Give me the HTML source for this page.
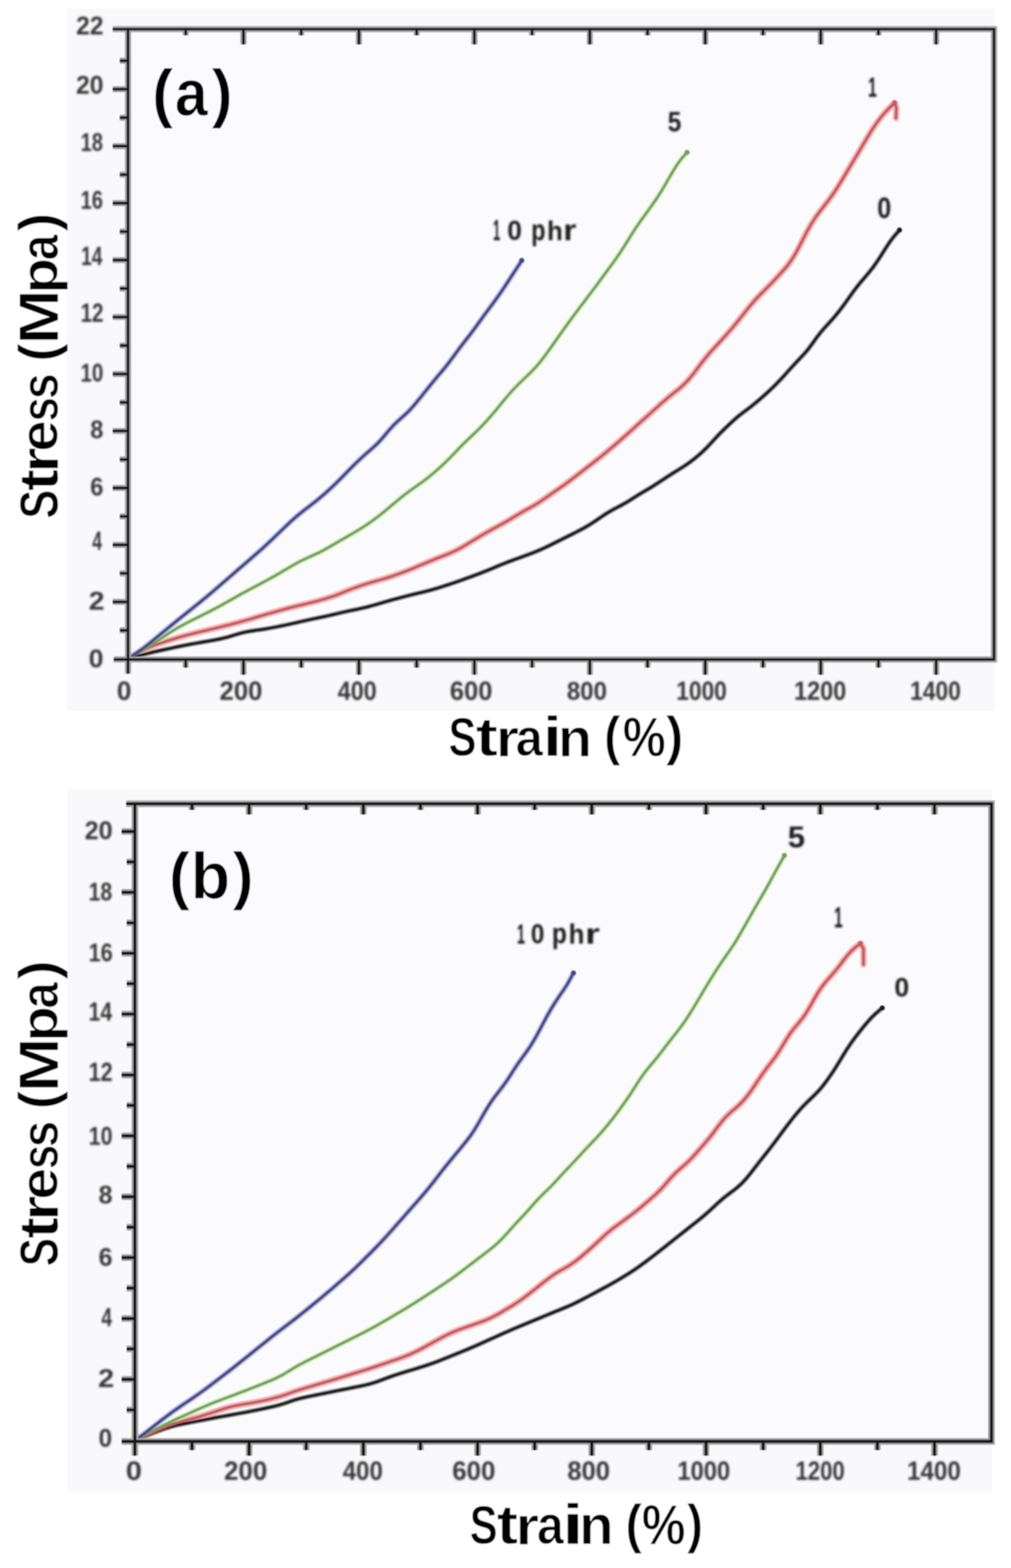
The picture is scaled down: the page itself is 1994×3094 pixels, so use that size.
<!DOCTYPE html>
<html><head><meta charset="utf-8"><title>Stress-strain curves (a) and (b)</title>
<style>html,body{margin:0;padding:0;background:#fff;overflow:hidden}svg{display:block}.t{font-family:"Liberation Sans",Arial,Helvetica,sans-serif;font-weight:bold}</style></head><body>
<svg xmlns="http://www.w3.org/2000/svg" width="1994" height="3094" viewBox="0 0 1994 3094">
<defs><filter id="soft" x="-5%" y="-5%" width="110%" height="110%"><feGaussianBlur stdDeviation="1.0"/></filter><filter id="tick" x="-20%" y="-20%" width="140%" height="140%"><feGaussianBlur stdDeviation="1.9"/></filter></defs>
<rect width="1994" height="3094" fill="#ffffff"/>
<rect x="132" y="17" width="1830" height="1386" fill="#f9f9fb"/>
<rect x="252.5" y="57.5" width="1708" height="1243.8" fill="#fbfbfd"/>
<g fill="none" stroke-linejoin="round" stroke-linecap="round" filter="url(#soft)">
<polyline points="258,1298 266,1295.91 274,1293.81 282,1291.74 290,1289.7 298,1287.73 306,1285.85 314,1284.05 322,1282.31 330,1280.59 338,1278.88 346,1277.18 354,1275.5 362,1273.87 370,1272.31 378,1270.82 386,1269.38 394,1267.97 402,1266.57 410,1265.17 418,1263.77 426,1262.31 434,1260.74 442,1258.94 450,1256.82 458,1254.44 466,1251.96 474,1249.63 482,1247.64 490,1246.04 498,1244.74 506,1243.59 514,1242.44 522,1241.21 530,1239.85 538,1238.39 546,1236.84 554,1235.25 562,1233.6 570,1231.88 578,1230.09 586,1228.26 594,1226.43 602,1224.61 610,1222.85 618,1221.14 626,1219.47 634,1217.81 642,1216.12 650,1214.35 658,1212.5 666,1210.58 674,1208.68 682,1206.86 690,1205.14 698,1203.49 706,1201.86 714,1200.15 722,1198.28 730,1196.21 738,1193.97 746,1191.63 754,1189.27 762,1186.94 770,1184.67 778,1182.47 786,1180.32 794,1178.21 802,1176.13 810,1174.12 818,1172.16 826,1170.24 834,1168.32 842,1166.34 850,1164.23 858,1161.94 866,1159.51 874,1156.98 882,1154.39 890,1151.76 898,1149.06 906,1146.27 914,1143.4 922,1140.49 930,1137.55 938,1134.59 946,1131.59 954,1128.52 962,1125.32 970,1122 978,1118.61 986,1115.26 994,1112.01 1002,1108.92 1010,1105.94 1018,1103.01 1026,1100.1 1034,1097.18 1042,1094.23 1050,1091.21 1058,1088.04 1066,1084.65 1074,1081 1082,1077.16 1090,1073.22 1098,1069.24 1106,1065.24 1114,1061.23 1122,1057.22 1130,1053.21 1138,1049.16 1146,1045.01 1154,1040.63 1162,1035.89 1170,1030.76 1178,1025.37 1186,1019.91 1194,1014.6 1202,1009.65 1210,1005.13 1218,1000.93 1226,996.73 1234,992.22 1242,987.31 1250,982.2 1258,977.17 1266,972.34 1274,967.62 1282,962.84 1290,957.88 1298,952.72 1306,947.47 1314,942.2 1322,937 1330,931.94 1338,926.97 1346,921.98 1354,916.72 1362,911.01 1370,904.8 1378,898.16 1386,891.03 1394,883.18 1402,874.62 1410,865.79 1418,857.26 1426,849.24 1434,841.54 1442,833.97 1450,826.65 1458,819.89 1466,813.69 1474,807.74 1482,801.62 1490,795.16 1498,788.38 1506,781.35 1514,774.1 1522,766.57 1530,758.69 1538,750.43 1546,741.84 1554,732.97 1562,724.01 1570,715.27 1578,706.9 1586,698.43 1594,688.97 1602,678.24 1610,667.04 1618,656.57 1626,647.24 1634,638.5 1642,629.62 1650,620.19 1658,610.09 1666,599.31 1674,588.05 1682,576.8 1690,566.15 1698,556.34 1706,547.03 1714,537.54 1722,527.31 1730,516.01 1738,503.7 1746,490.93 1754,478.71 1762,467.93 1770,458.79 1774,454" stroke="#8f8f8f" stroke-width="10" opacity="0.85"/>
<polyline points="256,1297 264,1292.82 272,1288.65 280,1284.52 288,1280.52 296,1276.8 304,1273.47 312,1270.54 320,1267.88 328,1265.35 336,1262.86 344,1260.4 352,1257.97 360,1255.62 368,1253.39 376,1251.3 384,1249.33 392,1247.42 400,1245.53 408,1243.65 416,1241.75 424,1239.82 432,1237.85 440,1235.85 448,1233.83 456,1231.79 464,1229.74 472,1227.64 480,1225.47 488,1223.21 496,1220.87 504,1218.49 512,1216.1 520,1213.72 528,1211.36 536,1209.04 544,1206.78 552,1204.58 560,1202.41 568,1200.28 576,1198.2 584,1196.19 592,1194.24 600,1192.34 608,1190.43 616,1188.46 624,1186.38 632,1184.18 640,1181.87 648,1179.44 656,1176.84 664,1173.97 672,1170.83 680,1167.56 688,1164.35 696,1161.27 704,1158.33 712,1155.5 720,1152.83 728,1150.33 736,1148.01 744,1145.78 752,1143.56 760,1141.24 768,1138.75 776,1136.08 784,1133.25 792,1130.33 800,1127.31 808,1124.19 816,1120.93 824,1117.56 832,1114.14 840,1110.72 848,1107.36 856,1104.09 864,1100.91 872,1097.78 880,1094.63 888,1091.34 896,1087.76 904,1083.76 912,1079.33 920,1074.6 928,1069.72 936,1064.81 944,1059.92 952,1055.12 960,1050.47 968,1045.99 976,1041.64 984,1037.33 992,1032.94 1000,1028.37 1008,1023.57 1016,1018.67 1024,1013.82 1032,1009.19 1040,1004.76 1048,1000.36 1056,995.75 1064,990.73 1072,985.34 1080,979.74 1088,974.11 1096,968.55 1104,963.01 1112,957.38 1120,951.53 1128,945.45 1136,939.24 1144,933.01 1152,926.82 1160,920.67 1168,914.49 1176,908.22 1184,901.83 1192,895.32 1200,888.68 1208,881.93 1216,875.07 1224,868.14 1232,861.11 1240,853.98 1248,846.76 1256,839.5 1264,832.29 1272,825.13 1280,817.98 1288,810.77 1296,803.51 1304,796.31 1312,789.3 1320,782.59 1328,776.2 1336,769.9 1344,763.21 1352,755.59 1360,746.78 1368,736.89 1376,726.36 1384,715.76 1392,705.61 1400,696.16 1408,687.25 1416,678.59 1424,669.92 1432,661.11 1440,652.05 1448,642.64 1456,632.84 1464,622.74 1472,612.58 1480,602.68 1488,593.4 1496,584.8 1504,576.65 1512,568.6 1520,560.39 1528,551.96 1536,543.39 1544,534.65 1552,525.34 1560,514.68 1568,502 1576,487.34 1584,471.56 1592,456.05 1600,441.96 1608,429.61 1616,418.6 1624,408.24 1632,397.9 1640,387.08 1648,375.46 1656,362.95 1664,349.74 1672,336.23 1680,322.79 1688,309.45 1696,296 1704,282.39 1712,268.89 1720,255.99 1728,244.11 1736,233.4 1744,223.77 1752,215.07 1760,207.2 1764.4,203 1768,213 1767,233" stroke="#f4aaaa" stroke-width="13" opacity="0.85"/>
<polyline points="256,1297 264,1292.45 272,1287.9 280,1283.33 288,1278.68 296,1273.89 304,1268.88 312,1263.66 320,1258.31 328,1252.92 336,1247.63 344,1242.59 352,1237.88 360,1233.51 368,1229.36 376,1225.33 384,1221.32 392,1217.33 400,1213.33 408,1209.3 416,1205.22 424,1201.04 432,1196.73 440,1192.3 448,1187.8 456,1183.28 464,1178.75 472,1174.25 480,1169.81 488,1165.46 496,1161.18 504,1156.95 512,1152.72 520,1148.46 528,1144.14 536,1139.74 544,1135.24 552,1130.64 560,1125.93 568,1121.17 576,1116.44 584,1111.87 592,1107.59 600,1103.65 608,1099.97 616,1096.39 624,1092.75 632,1088.89 640,1084.71 648,1080.23 656,1075.56 664,1070.83 672,1066.12 680,1061.47 688,1056.88 696,1052.3 704,1047.63 712,1042.75 720,1037.6 728,1032.18 736,1026.49 744,1020.53 752,1014.25 760,1007.72 768,1001.02 776,994.27 784,987.54 792,980.95 800,974.63 808,968.66 816,963 824,957.41 832,951.69 840,945.68 848,939.35 856,932.69 864,925.7 872,918.37 880,910.7 888,902.71 896,894.44 904,886.07 912,877.86 920,870 928,862.41 936,854.84 944,847.03 952,838.86 960,830.27 968,821.24 976,811.78 984,802 992,792.15 1000,782.55 1008,773.44 1016,764.86 1024,756.74 1032,748.94 1040,741.27 1048,733.43 1056,725.07 1064,715.82 1072,705.63 1080,694.75 1088,683.55 1096,672.25 1104,660.94 1112,649.67 1120,638.51 1128,627.51 1136,616.68 1144,606 1152,595.4 1160,584.85 1168,574.3 1176,563.64 1184,552.74 1192,541.71 1200,530.78 1208,519.96 1216,508.89 1224,497.17 1232,484.72 1240,471.82 1248,459.02 1256,446.81 1264,435.29 1272,424.19 1280,413.15 1288,401.93 1296,390.27 1304,377.82 1312,364.43 1320,350.47 1328,336.75 1336,324.16 1344,313.15 1355,300.8 1355,300.8" stroke="#c9e8b4" stroke-width="10" opacity="0.85"/>
<polyline points="256,1296.97 264,1291.85 272,1286.53 280,1280.87 288,1274.83 296,1268.47 304,1261.93 312,1255.33 320,1248.7 328,1242.08 336,1235.48 344,1228.92 352,1222.41 360,1215.95 368,1209.53 376,1203.12 384,1196.71 392,1190.26 400,1183.74 408,1177.1 416,1170.34 424,1163.49 432,1156.58 440,1149.65 448,1142.72 456,1135.79 464,1128.86 472,1121.93 480,1115 488,1108.07 496,1101.13 504,1094.16 512,1087.12 520,1079.94 528,1072.57 536,1065.02 544,1057.35 552,1049.63 560,1041.91 568,1034.25 576,1026.78 584,1019.66 592,1012.97 600,1006.66 608,1000.55 616,994.42 624,988.08 632,981.46 640,974.55 648,967.41 656,959.99 664,952.26 672,944.25 680,936.07 688,927.87 696,919.76 704,911.85 712,904.22 720,896.97 728,890.01 736,883.03 744,875.51 752,867.01 760,857.61 768,848.08 776,839.3 784,831.54 792,824.4 800,817.22 808,809.38 816,800.52 824,790.85 832,780.86 840,770.89 848,760.96 856,751.13 864,741.56 872,732.12 880,722.39 888,711.99 896,701.04 904,690.06 912,679.51 920,669.32 928,659.04 936,648.29 944,637.19 952,626.09 960,615.17 968,604.37 976,593.52 984,582.4 992,570.78 1000,558.63 1008,546.25 1016,533.96 1024,521.91 1029,514" stroke="#aeb0da" stroke-width="11" opacity="0.85"/>
<polyline points="258,1298 266,1295.91 274,1293.81 282,1291.74 290,1289.7 298,1287.73 306,1285.85 314,1284.05 322,1282.31 330,1280.59 338,1278.88 346,1277.18 354,1275.5 362,1273.87 370,1272.31 378,1270.82 386,1269.38 394,1267.97 402,1266.57 410,1265.17 418,1263.77 426,1262.31 434,1260.74 442,1258.94 450,1256.82 458,1254.44 466,1251.96 474,1249.63 482,1247.64 490,1246.04 498,1244.74 506,1243.59 514,1242.44 522,1241.21 530,1239.85 538,1238.39 546,1236.84 554,1235.25 562,1233.6 570,1231.88 578,1230.09 586,1228.26 594,1226.43 602,1224.61 610,1222.85 618,1221.14 626,1219.47 634,1217.81 642,1216.12 650,1214.35 658,1212.5 666,1210.58 674,1208.68 682,1206.86 690,1205.14 698,1203.49 706,1201.86 714,1200.15 722,1198.28 730,1196.21 738,1193.97 746,1191.63 754,1189.27 762,1186.94 770,1184.67 778,1182.47 786,1180.32 794,1178.21 802,1176.13 810,1174.12 818,1172.16 826,1170.24 834,1168.32 842,1166.34 850,1164.23 858,1161.94 866,1159.51 874,1156.98 882,1154.39 890,1151.76 898,1149.06 906,1146.27 914,1143.4 922,1140.49 930,1137.55 938,1134.59 946,1131.59 954,1128.52 962,1125.32 970,1122 978,1118.61 986,1115.26 994,1112.01 1002,1108.92 1010,1105.94 1018,1103.01 1026,1100.1 1034,1097.18 1042,1094.23 1050,1091.21 1058,1088.04 1066,1084.65 1074,1081 1082,1077.16 1090,1073.22 1098,1069.24 1106,1065.24 1114,1061.23 1122,1057.22 1130,1053.21 1138,1049.16 1146,1045.01 1154,1040.63 1162,1035.89 1170,1030.76 1178,1025.37 1186,1019.91 1194,1014.6 1202,1009.65 1210,1005.13 1218,1000.93 1226,996.73 1234,992.22 1242,987.31 1250,982.2 1258,977.17 1266,972.34 1274,967.62 1282,962.84 1290,957.88 1298,952.72 1306,947.47 1314,942.2 1322,937 1330,931.94 1338,926.97 1346,921.98 1354,916.72 1362,911.01 1370,904.8 1378,898.16 1386,891.03 1394,883.18 1402,874.62 1410,865.79 1418,857.26 1426,849.24 1434,841.54 1442,833.97 1450,826.65 1458,819.89 1466,813.69 1474,807.74 1482,801.62 1490,795.16 1498,788.38 1506,781.35 1514,774.1 1522,766.57 1530,758.69 1538,750.43 1546,741.84 1554,732.97 1562,724.01 1570,715.27 1578,706.9 1586,698.43 1594,688.97 1602,678.24 1610,667.04 1618,656.57 1626,647.24 1634,638.5 1642,629.62 1650,620.19 1658,610.09 1666,599.31 1674,588.05 1682,576.8 1690,566.15 1698,556.34 1706,547.03 1714,537.54 1722,527.31 1730,516.01 1738,503.7 1746,490.93 1754,478.71 1762,467.93 1770,458.79 1774,454" stroke="#1a1a1a" stroke-width="5.5"/>
<circle cx="1774" cy="454" r="5" fill="#1a1a1a" stroke="none"/>
<polyline points="256,1297 264,1292.82 272,1288.65 280,1284.52 288,1280.52 296,1276.8 304,1273.47 312,1270.54 320,1267.88 328,1265.35 336,1262.86 344,1260.4 352,1257.97 360,1255.62 368,1253.39 376,1251.3 384,1249.33 392,1247.42 400,1245.53 408,1243.65 416,1241.75 424,1239.82 432,1237.85 440,1235.85 448,1233.83 456,1231.79 464,1229.74 472,1227.64 480,1225.47 488,1223.21 496,1220.87 504,1218.49 512,1216.1 520,1213.72 528,1211.36 536,1209.04 544,1206.78 552,1204.58 560,1202.41 568,1200.28 576,1198.2 584,1196.19 592,1194.24 600,1192.34 608,1190.43 616,1188.46 624,1186.38 632,1184.18 640,1181.87 648,1179.44 656,1176.84 664,1173.97 672,1170.83 680,1167.56 688,1164.35 696,1161.27 704,1158.33 712,1155.5 720,1152.83 728,1150.33 736,1148.01 744,1145.78 752,1143.56 760,1141.24 768,1138.75 776,1136.08 784,1133.25 792,1130.33 800,1127.31 808,1124.19 816,1120.93 824,1117.56 832,1114.14 840,1110.72 848,1107.36 856,1104.09 864,1100.91 872,1097.78 880,1094.63 888,1091.34 896,1087.76 904,1083.76 912,1079.33 920,1074.6 928,1069.72 936,1064.81 944,1059.92 952,1055.12 960,1050.47 968,1045.99 976,1041.64 984,1037.33 992,1032.94 1000,1028.37 1008,1023.57 1016,1018.67 1024,1013.82 1032,1009.19 1040,1004.76 1048,1000.36 1056,995.75 1064,990.73 1072,985.34 1080,979.74 1088,974.11 1096,968.55 1104,963.01 1112,957.38 1120,951.53 1128,945.45 1136,939.24 1144,933.01 1152,926.82 1160,920.67 1168,914.49 1176,908.22 1184,901.83 1192,895.32 1200,888.68 1208,881.93 1216,875.07 1224,868.14 1232,861.11 1240,853.98 1248,846.76 1256,839.5 1264,832.29 1272,825.13 1280,817.98 1288,810.77 1296,803.51 1304,796.31 1312,789.3 1320,782.59 1328,776.2 1336,769.9 1344,763.21 1352,755.59 1360,746.78 1368,736.89 1376,726.36 1384,715.76 1392,705.61 1400,696.16 1408,687.25 1416,678.59 1424,669.92 1432,661.11 1440,652.05 1448,642.64 1456,632.84 1464,622.74 1472,612.58 1480,602.68 1488,593.4 1496,584.8 1504,576.65 1512,568.6 1520,560.39 1528,551.96 1536,543.39 1544,534.65 1552,525.34 1560,514.68 1568,502 1576,487.34 1584,471.56 1592,456.05 1600,441.96 1608,429.61 1616,418.6 1624,408.24 1632,397.9 1640,387.08 1648,375.46 1656,362.95 1664,349.74 1672,336.23 1680,322.79 1688,309.45 1696,296 1704,282.39 1712,268.89 1720,255.99 1728,244.11 1736,233.4 1744,223.77 1752,215.07 1760,207.2 1764.4,203 1768,213 1767,233" stroke="#c45c62" stroke-width="5.5"/>
<circle cx="1764.4" cy="203" r="5" fill="#c45c62" stroke="none"/>
<polyline points="256,1297 264,1292.45 272,1287.9 280,1283.33 288,1278.68 296,1273.89 304,1268.88 312,1263.66 320,1258.31 328,1252.92 336,1247.63 344,1242.59 352,1237.88 360,1233.51 368,1229.36 376,1225.33 384,1221.32 392,1217.33 400,1213.33 408,1209.3 416,1205.22 424,1201.04 432,1196.73 440,1192.3 448,1187.8 456,1183.28 464,1178.75 472,1174.25 480,1169.81 488,1165.46 496,1161.18 504,1156.95 512,1152.72 520,1148.46 528,1144.14 536,1139.74 544,1135.24 552,1130.64 560,1125.93 568,1121.17 576,1116.44 584,1111.87 592,1107.59 600,1103.65 608,1099.97 616,1096.39 624,1092.75 632,1088.89 640,1084.71 648,1080.23 656,1075.56 664,1070.83 672,1066.12 680,1061.47 688,1056.88 696,1052.3 704,1047.63 712,1042.75 720,1037.6 728,1032.18 736,1026.49 744,1020.53 752,1014.25 760,1007.72 768,1001.02 776,994.27 784,987.54 792,980.95 800,974.63 808,968.66 816,963 824,957.41 832,951.69 840,945.68 848,939.35 856,932.69 864,925.7 872,918.37 880,910.7 888,902.71 896,894.44 904,886.07 912,877.86 920,870 928,862.41 936,854.84 944,847.03 952,838.86 960,830.27 968,821.24 976,811.78 984,802 992,792.15 1000,782.55 1008,773.44 1016,764.86 1024,756.74 1032,748.94 1040,741.27 1048,733.43 1056,725.07 1064,715.82 1072,705.63 1080,694.75 1088,683.55 1096,672.25 1104,660.94 1112,649.67 1120,638.51 1128,627.51 1136,616.68 1144,606 1152,595.4 1160,584.85 1168,574.3 1176,563.64 1184,552.74 1192,541.71 1200,530.78 1208,519.96 1216,508.89 1224,497.17 1232,484.72 1240,471.82 1248,459.02 1256,446.81 1264,435.29 1272,424.19 1280,413.15 1288,401.93 1296,390.27 1304,377.82 1312,364.43 1320,350.47 1328,336.75 1336,324.16 1344,313.15 1355,300.8 1355,300.8" stroke="#72a05a" stroke-width="5"/>
<circle cx="1355" cy="300.8" r="5" fill="#72a05a" stroke="none"/>
<polyline points="256,1296.97 264,1291.85 272,1286.53 280,1280.87 288,1274.83 296,1268.47 304,1261.93 312,1255.33 320,1248.7 328,1242.08 336,1235.48 344,1228.92 352,1222.41 360,1215.95 368,1209.53 376,1203.12 384,1196.71 392,1190.26 400,1183.74 408,1177.1 416,1170.34 424,1163.49 432,1156.58 440,1149.65 448,1142.72 456,1135.79 464,1128.86 472,1121.93 480,1115 488,1108.07 496,1101.13 504,1094.16 512,1087.12 520,1079.94 528,1072.57 536,1065.02 544,1057.35 552,1049.63 560,1041.91 568,1034.25 576,1026.78 584,1019.66 592,1012.97 600,1006.66 608,1000.55 616,994.42 624,988.08 632,981.46 640,974.55 648,967.41 656,959.99 664,952.26 672,944.25 680,936.07 688,927.87 696,919.76 704,911.85 712,904.22 720,896.97 728,890.01 736,883.03 744,875.51 752,867.01 760,857.61 768,848.08 776,839.3 784,831.54 792,824.4 800,817.22 808,809.38 816,800.52 824,790.85 832,780.86 840,770.89 848,760.96 856,751.13 864,741.56 872,732.12 880,722.39 888,711.99 896,701.04 904,690.06 912,679.51 920,669.32 928,659.04 936,648.29 944,637.19 952,626.09 960,615.17 968,604.37 976,593.52 984,582.4 992,570.78 1000,558.63 1008,546.25 1016,533.96 1024,521.91 1029,514" stroke="#474787" stroke-width="5.5"/>
<circle cx="1029" cy="514" r="5" fill="#474787" stroke="none"/>
</g>
<g fill="none" filter="url(#soft)"><path d="M252.5 57.5H1960.5V1301.3H252.5ZM222.5 57.5H252.5M252.5 1301.3V1329.3M224.5 1301.3H252.5M236.5 1243.8H252.5M222.5 1187.6H252.5M236.5 1131.4H252.5M222.5 1075.2H252.5M236.5 1019H252.5M222.5 962.8H252.5M236.5 906.6H252.5M222.5 850.4H252.5M236.5 794.2H252.5M222.5 738H252.5M236.5 681.8H252.5M222.5 625.6H252.5M236.5 569.4H252.5M222.5 513.2H252.5M236.5 457H252.5M222.5 400.8H252.5M236.5 344.6H252.5M222.5 288.4H252.5M236.5 232.2H252.5M222.5 176H252.5M236.5 119.8H252.5M366.35 1301.3V1317.3M366.35 57.5V69.5M480.2 1301.3V1331.3M480.2 57.5V87.5M594.05 1301.3V1317.3M594.05 57.5V69.5M707.9 1301.3V1331.3M707.9 57.5V87.5M821.75 1301.3V1317.3M821.75 57.5V69.5M935.6 1301.3V1331.3M935.6 57.5V87.5M1049.45 1301.3V1317.3M1049.45 57.5V69.5M1163.3 1301.3V1331.3M1163.3 57.5V87.5M1277.15 1301.3V1317.3M1277.15 57.5V69.5M1391 1301.3V1331.3M1391 57.5V87.5M1504.85 1301.3V1317.3M1504.85 57.5V69.5M1618.7 1301.3V1331.3M1618.7 57.5V87.5M1732.55 1301.3V1317.3M1732.55 57.5V69.5M1846.4 1301.3V1331.3M1846.4 57.5V87.5" stroke="#a4a4a4" stroke-width="12"/><path d="M252.5 57.5H1960.5V1301.3H252.5ZM222.5 57.5H252.5M252.5 1301.3V1329.3M224.5 1301.3H252.5M236.5 1243.8H252.5M222.5 1187.6H252.5M236.5 1131.4H252.5M222.5 1075.2H252.5M236.5 1019H252.5M222.5 962.8H252.5M236.5 906.6H252.5M222.5 850.4H252.5M236.5 794.2H252.5M222.5 738H252.5M236.5 681.8H252.5M222.5 625.6H252.5M236.5 569.4H252.5M222.5 513.2H252.5M236.5 457H252.5M222.5 400.8H252.5M236.5 344.6H252.5M222.5 288.4H252.5M236.5 232.2H252.5M222.5 176H252.5M236.5 119.8H252.5M366.35 1301.3V1317.3M366.35 57.5V69.5M480.2 1301.3V1331.3M480.2 57.5V87.5M594.05 1301.3V1317.3M594.05 57.5V69.5M707.9 1301.3V1331.3M707.9 57.5V87.5M821.75 1301.3V1317.3M821.75 57.5V69.5M935.6 1301.3V1331.3M935.6 57.5V87.5M1049.45 1301.3V1317.3M1049.45 57.5V69.5M1163.3 1301.3V1331.3M1163.3 57.5V87.5M1277.15 1301.3V1317.3M1277.15 57.5V69.5M1391 1301.3V1331.3M1391 57.5V87.5M1504.85 1301.3V1317.3M1504.85 57.5V69.5M1618.7 1301.3V1331.3M1618.7 57.5V87.5M1732.55 1301.3V1317.3M1732.55 57.5V69.5M1846.4 1301.3V1331.3M1846.4 57.5V87.5" stroke="#121212" stroke-width="5.2"/></g>
<rect x="133" y="1558" width="1824" height="1388" fill="#f9f9fb"/>
<rect x="266" y="1586" width="1689.5" height="1258.3" fill="#fbfbfd"/>
<g fill="none" stroke-linejoin="round" stroke-linecap="round" filter="url(#soft)">
<polyline points="271,2840 279,2836.9 287,2833.79 295,2830.69 303,2827.58 311,2824.49 319,2821.45 327,2818.54 335,2815.9 343,2813.63 351,2811.7 359,2810.01 367,2808.43 375,2806.88 383,2805.35 391,2803.81 399,2802.28 407,2800.75 415,2799.25 423,2797.77 431,2796.32 439,2794.87 447,2793.44 455,2792 463,2790.56 471,2789.12 479,2787.67 487,2786.18 495,2784.64 503,2783.03 511,2781.38 519,2779.69 527,2778 535,2776.27 543,2774.45 551,2772.4 559,2769.98 567,2767.23 575,2764.39 583,2761.81 591,2759.63 599,2757.77 607,2756.06 615,2754.41 623,2752.77 631,2751.13 639,2749.49 647,2747.86 655,2746.23 663,2744.62 671,2743.02 679,2741.43 687,2739.84 695,2738.25 703,2736.66 711,2735.04 719,2733.33 727,2731.42 735,2729.18 743,2726.56 751,2723.66 759,2720.63 767,2717.64 775,2714.79 783,2712.12 791,2709.59 799,2707.13 807,2704.7 815,2702.28 823,2699.85 831,2697.4 839,2694.88 847,2692.23 855,2689.39 863,2686.37 871,2683.22 879,2680.01 887,2676.78 895,2673.55 903,2670.31 911,2667.05 919,2663.76 927,2660.4 935,2656.94 943,2653.41 951,2649.83 959,2646.22 967,2642.61 975,2639 983,2635.39 991,2631.8 999,2628.25 1007,2624.76 1015,2621.33 1023,2617.97 1031,2614.63 1039,2611.31 1047,2607.99 1055,2604.67 1063,2601.35 1071,2598.03 1079,2594.72 1087,2591.41 1095,2588.13 1103,2584.87 1111,2581.61 1119,2578.27 1127,2574.74 1135,2570.96 1143,2566.95 1151,2562.8 1159,2558.58 1167,2554.34 1175,2550.07 1183,2545.78 1191,2541.46 1199,2537.08 1207,2532.63 1215,2528.05 1223,2523.32 1231,2518.47 1239,2513.49 1247,2508.35 1255,2502.98 1263,2497.36 1271,2491.53 1279,2485.54 1287,2479.41 1295,2473.18 1303,2466.88 1311,2460.53 1319,2454.18 1327,2447.82 1335,2441.46 1343,2435.11 1351,2428.77 1359,2422.46 1367,2416.17 1375,2409.85 1383,2403.38 1391,2396.6 1399,2389.44 1407,2382.01 1415,2374.58 1423,2367.47 1431,2360.86 1439,2354.72 1447,2348.75 1455,2342.38 1463,2335.03 1471,2326.44 1479,2316.79 1487,2306.52 1495,2296.11 1503,2285.86 1511,2275.77 1519,2265.58 1527,2255.11 1535,2244.37 1543,2233.54 1551,2222.82 1559,2212.34 1567,2202.26 1575,2192.72 1583,2183.86 1591,2175.66 1599,2167.91 1607,2160.2 1615,2151.92 1623,2142.51 1631,2131.95 1639,2120.53 1647,2108.4 1655,2095.52 1663,2082.25 1671,2069.37 1679,2057.46 1687,2046.53 1695,2036.2 1703,2026.2 1711,2016.62 1719,2007.83 1727,2000.05 1735,1993.17 1740,1989" stroke="#8f8f8f" stroke-width="10" opacity="0.85"/>
<polyline points="271,2840 279,2836.42 287,2832.84 295,2829.25 303,2825.67 311,2822.1 319,2818.58 327,2815.19 335,2812.06 343,2809.28 351,2806.83 359,2804.62 367,2802.5 375,2800.41 383,2798.28 391,2796.05 399,2793.68 407,2791.16 415,2788.53 423,2785.84 431,2783.16 439,2780.53 447,2778.08 455,2775.9 463,2774.07 471,2772.52 479,2771.13 487,2769.81 495,2768.48 503,2767.08 511,2765.57 519,2763.89 527,2762.07 535,2760.13 543,2758.09 551,2755.87 559,2753.38 567,2750.63 575,2747.75 583,2744.94 591,2742.32 599,2739.85 607,2737.45 615,2735.09 623,2732.73 631,2730.37 639,2728.01 647,2725.63 655,2723.24 663,2720.82 671,2718.37 679,2715.92 687,2713.46 695,2711 703,2708.54 711,2706.07 719,2703.59 727,2701.06 735,2698.47 743,2695.81 751,2693.09 759,2690.34 767,2687.58 775,2684.81 783,2682.03 791,2679.22 799,2676.29 807,2673.11 815,2669.57 823,2665.65 831,2661.45 839,2657.1 847,2652.7 855,2648.3 863,2643.9 871,2639.55 879,2635.35 887,2631.42 895,2627.87 903,2624.68 911,2621.74 919,2618.9 927,2616.11 935,2613.32 943,2610.51 951,2607.6 959,2604.48 967,2600.96 975,2596.96 983,2592.55 991,2587.9 999,2583.14 1007,2578.29 1015,2573.3 1023,2568.04 1031,2562.41 1039,2556.43 1047,2550.21 1055,2543.87 1063,2537.5 1071,2531.14 1079,2524.86 1087,2518.83 1095,2513.29 1103,2508.4 1111,2503.96 1119,2499.46 1127,2494.39 1135,2488.62 1143,2482.28 1151,2475.56 1159,2468.59 1167,2461.42 1175,2454.04 1183,2446.5 1191,2439 1199,2431.87 1207,2425.29 1215,2419.21 1223,2413.4 1231,2407.65 1239,2401.85 1247,2395.86 1255,2389.6 1263,2383.04 1271,2376.25 1279,2369.34 1287,2362.3 1295,2354.98 1303,2347.03 1311,2338.23 1319,2328.91 1327,2319.96 1335,2312.02 1343,2304.92 1351,2297.99 1359,2290.53 1367,2282.18 1375,2273.14 1383,2263.95 1391,2254.76 1399,2245.22 1407,2234.94 1415,2224.2 1423,2213.81 1431,2204.59 1439,2196.72 1447,2189.75 1455,2182.82 1463,2175.09 1471,2166.04 1479,2155.63 1487,2144.12 1495,2132.1 1503,2120.32 1511,2109.31 1519,2098.94 1527,2088.47 1535,2076.91 1543,2063.94 1551,2050.56 1559,2038.38 1567,2028.08 1575,2018.76 1583,2008.86 1591,1997.18 1599,1983.56 1607,1969.16 1615,1955.73 1623,1944.31 1631,1934.59 1639,1925.6 1647,1916.37 1655,1906.35 1663,1895.76 1671,1885.52 1679,1876.59 1687,1869.34 1697,1862 1697,1862 1703,1872 1703,1903" stroke="#f4aaaa" stroke-width="13" opacity="0.85"/>
<polyline points="271,2839 279,2834.89 287,2830.79 295,2826.68 303,2822.57 311,2818.47 319,2814.38 327,2810.34 335,2806.38 343,2802.54 351,2798.82 359,2795.17 367,2791.55 375,2787.95 383,2784.35 391,2780.76 399,2777.19 407,2773.7 415,2770.32 423,2767.09 431,2764 439,2760.99 447,2758.01 455,2755.03 463,2752.04 471,2749.02 479,2745.95 487,2742.84 495,2739.7 503,2736.55 511,2733.38 519,2730.19 527,2726.96 535,2723.63 543,2720.12 551,2716.27 559,2711.93 567,2707.13 575,2702.12 583,2697.28 591,2692.78 599,2688.57 607,2684.51 615,2680.5 623,2676.5 631,2672.5 639,2668.5 647,2664.5 655,2660.5 663,2656.5 671,2652.5 679,2648.5 687,2644.5 695,2640.5 703,2636.5 711,2632.48 719,2628.43 727,2624.29 735,2619.99 743,2615.53 751,2610.93 759,2606.25 767,2601.54 775,2596.82 783,2592.1 791,2587.37 799,2582.6 807,2577.76 815,2572.8 823,2567.72 831,2562.55 839,2557.34 847,2552.12 855,2546.88 863,2541.65 871,2536.38 879,2531.04 887,2525.55 895,2519.86 903,2513.97 911,2507.95 919,2501.87 927,2495.77 935,2489.67 943,2483.57 951,2477.46 959,2471.34 967,2465.1 975,2458.55 983,2451.38 991,2443.38 999,2434.69 1007,2425.74 1015,2416.91 1023,2408.28 1031,2399.72 1039,2391.03 1047,2382.07 1055,2372.99 1063,2364.26 1071,2356.19 1079,2348.54 1087,2340.66 1095,2332.16 1103,2323.33 1111,2314.66 1119,2306.26 1127,2297.88 1135,2289.31 1143,2280.59 1151,2271.88 1159,2263.36 1167,2255 1175,2246.6 1183,2237.91 1191,2228.77 1199,2219.16 1207,2209.12 1215,2198.69 1223,2187.93 1231,2176.83 1239,2165.27 1247,2153.13 1255,2140.63 1263,2128.37 1271,2117.03 1279,2106.83 1287,2097.35 1295,2087.84 1303,2077.78 1311,2067.23 1319,2056.67 1327,2046.48 1335,2036.47 1343,2026.07 1351,2014.8 1359,2002.59 1367,1989.73 1375,1976.49 1383,1963.02 1391,1949.51 1399,1936.25 1407,1923.36 1415,1910.88 1423,1898.82 1431,1887.26 1439,1875.92 1447,1864.07 1455,1851.11 1463,1837.29 1471,1823.24 1479,1809.14 1487,1794.95 1495,1780.99 1503,1767.36 1511,1753.5 1519,1738.98 1527,1724.23 1535,1709.77 1543,1695.56 1547,1688" stroke="#c9e8b4" stroke-width="10" opacity="0.85"/>
<polyline points="271,2838.98 279,2833.04 287,2826.97 295,2820.79 303,2814.53 311,2808.25 319,2801.99 327,2795.82 335,2789.79 343,2783.98 351,2778.38 359,2772.91 367,2767.5 375,2762.1 383,2756.65 391,2751.09 399,2745.37 407,2739.48 415,2733.47 423,2727.4 431,2721.3 439,2715.18 447,2709.02 455,2702.79 463,2696.48 471,2690.11 479,2683.7 487,2677.27 495,2670.84 503,2664.4 511,2657.97 519,2651.54 527,2645.11 535,2638.71 543,2632.37 551,2626.14 559,2620.03 567,2613.98 575,2607.9 583,2601.71 591,2595.38 599,2588.96 607,2582.5 615,2576 623,2569.48 631,2562.89 639,2556.2 647,2549.42 655,2542.56 663,2535.66 671,2528.73 679,2521.75 687,2514.64 695,2507.31 703,2499.72 711,2491.92 719,2483.98 727,2475.99 735,2467.94 743,2459.78 751,2451.43 759,2442.82 767,2433.98 775,2424.99 783,2415.93 791,2406.85 799,2397.77 807,2388.69 815,2379.62 823,2370.54 831,2361.39 839,2352.05 847,2342.35 855,2332.22 863,2321.81 871,2311.43 879,2301.29 887,2291.42 895,2281.74 903,2272.16 911,2262.58 919,2252.77 927,2242.27 935,2230.56 943,2217.38 951,2203.25 959,2189.32 967,2176.56 975,2165.2 983,2154.76 991,2144.5 999,2133.48 1007,2121.28 1015,2108.6 1023,2096.6 1031,2085.57 1039,2074.62 1047,2062.72 1055,2049.39 1063,2034.84 1071,2019.74 1079,2004.82 1087,1990.7 1095,1977.7 1103,1965.8 1111,1954.3 1119,1941.87 1127,1927.41 1131,1920" stroke="#aeb0da" stroke-width="11" opacity="0.85"/>
<polyline points="271,2840 279,2836.9 287,2833.79 295,2830.69 303,2827.58 311,2824.49 319,2821.45 327,2818.54 335,2815.9 343,2813.63 351,2811.7 359,2810.01 367,2808.43 375,2806.88 383,2805.35 391,2803.81 399,2802.28 407,2800.75 415,2799.25 423,2797.77 431,2796.32 439,2794.87 447,2793.44 455,2792 463,2790.56 471,2789.12 479,2787.67 487,2786.18 495,2784.64 503,2783.03 511,2781.38 519,2779.69 527,2778 535,2776.27 543,2774.45 551,2772.4 559,2769.98 567,2767.23 575,2764.39 583,2761.81 591,2759.63 599,2757.77 607,2756.06 615,2754.41 623,2752.77 631,2751.13 639,2749.49 647,2747.86 655,2746.23 663,2744.62 671,2743.02 679,2741.43 687,2739.84 695,2738.25 703,2736.66 711,2735.04 719,2733.33 727,2731.42 735,2729.18 743,2726.56 751,2723.66 759,2720.63 767,2717.64 775,2714.79 783,2712.12 791,2709.59 799,2707.13 807,2704.7 815,2702.28 823,2699.85 831,2697.4 839,2694.88 847,2692.23 855,2689.39 863,2686.37 871,2683.22 879,2680.01 887,2676.78 895,2673.55 903,2670.31 911,2667.05 919,2663.76 927,2660.4 935,2656.94 943,2653.41 951,2649.83 959,2646.22 967,2642.61 975,2639 983,2635.39 991,2631.8 999,2628.25 1007,2624.76 1015,2621.33 1023,2617.97 1031,2614.63 1039,2611.31 1047,2607.99 1055,2604.67 1063,2601.35 1071,2598.03 1079,2594.72 1087,2591.41 1095,2588.13 1103,2584.87 1111,2581.61 1119,2578.27 1127,2574.74 1135,2570.96 1143,2566.95 1151,2562.8 1159,2558.58 1167,2554.34 1175,2550.07 1183,2545.78 1191,2541.46 1199,2537.08 1207,2532.63 1215,2528.05 1223,2523.32 1231,2518.47 1239,2513.49 1247,2508.35 1255,2502.98 1263,2497.36 1271,2491.53 1279,2485.54 1287,2479.41 1295,2473.18 1303,2466.88 1311,2460.53 1319,2454.18 1327,2447.82 1335,2441.46 1343,2435.11 1351,2428.77 1359,2422.46 1367,2416.17 1375,2409.85 1383,2403.38 1391,2396.6 1399,2389.44 1407,2382.01 1415,2374.58 1423,2367.47 1431,2360.86 1439,2354.72 1447,2348.75 1455,2342.38 1463,2335.03 1471,2326.44 1479,2316.79 1487,2306.52 1495,2296.11 1503,2285.86 1511,2275.77 1519,2265.58 1527,2255.11 1535,2244.37 1543,2233.54 1551,2222.82 1559,2212.34 1567,2202.26 1575,2192.72 1583,2183.86 1591,2175.66 1599,2167.91 1607,2160.2 1615,2151.92 1623,2142.51 1631,2131.95 1639,2120.53 1647,2108.4 1655,2095.52 1663,2082.25 1671,2069.37 1679,2057.46 1687,2046.53 1695,2036.2 1703,2026.2 1711,2016.62 1719,2007.83 1727,2000.05 1735,1993.17 1740,1989" stroke="#1a1a1a" stroke-width="5.5"/>
<circle cx="1740" cy="1989" r="5" fill="#1a1a1a" stroke="none"/>
<polyline points="271,2840 279,2836.42 287,2832.84 295,2829.25 303,2825.67 311,2822.1 319,2818.58 327,2815.19 335,2812.06 343,2809.28 351,2806.83 359,2804.62 367,2802.5 375,2800.41 383,2798.28 391,2796.05 399,2793.68 407,2791.16 415,2788.53 423,2785.84 431,2783.16 439,2780.53 447,2778.08 455,2775.9 463,2774.07 471,2772.52 479,2771.13 487,2769.81 495,2768.48 503,2767.08 511,2765.57 519,2763.89 527,2762.07 535,2760.13 543,2758.09 551,2755.87 559,2753.38 567,2750.63 575,2747.75 583,2744.94 591,2742.32 599,2739.85 607,2737.45 615,2735.09 623,2732.73 631,2730.37 639,2728.01 647,2725.63 655,2723.24 663,2720.82 671,2718.37 679,2715.92 687,2713.46 695,2711 703,2708.54 711,2706.07 719,2703.59 727,2701.06 735,2698.47 743,2695.81 751,2693.09 759,2690.34 767,2687.58 775,2684.81 783,2682.03 791,2679.22 799,2676.29 807,2673.11 815,2669.57 823,2665.65 831,2661.45 839,2657.1 847,2652.7 855,2648.3 863,2643.9 871,2639.55 879,2635.35 887,2631.42 895,2627.87 903,2624.68 911,2621.74 919,2618.9 927,2616.11 935,2613.32 943,2610.51 951,2607.6 959,2604.48 967,2600.96 975,2596.96 983,2592.55 991,2587.9 999,2583.14 1007,2578.29 1015,2573.3 1023,2568.04 1031,2562.41 1039,2556.43 1047,2550.21 1055,2543.87 1063,2537.5 1071,2531.14 1079,2524.86 1087,2518.83 1095,2513.29 1103,2508.4 1111,2503.96 1119,2499.46 1127,2494.39 1135,2488.62 1143,2482.28 1151,2475.56 1159,2468.59 1167,2461.42 1175,2454.04 1183,2446.5 1191,2439 1199,2431.87 1207,2425.29 1215,2419.21 1223,2413.4 1231,2407.65 1239,2401.85 1247,2395.86 1255,2389.6 1263,2383.04 1271,2376.25 1279,2369.34 1287,2362.3 1295,2354.98 1303,2347.03 1311,2338.23 1319,2328.91 1327,2319.96 1335,2312.02 1343,2304.92 1351,2297.99 1359,2290.53 1367,2282.18 1375,2273.14 1383,2263.95 1391,2254.76 1399,2245.22 1407,2234.94 1415,2224.2 1423,2213.81 1431,2204.59 1439,2196.72 1447,2189.75 1455,2182.82 1463,2175.09 1471,2166.04 1479,2155.63 1487,2144.12 1495,2132.1 1503,2120.32 1511,2109.31 1519,2098.94 1527,2088.47 1535,2076.91 1543,2063.94 1551,2050.56 1559,2038.38 1567,2028.08 1575,2018.76 1583,2008.86 1591,1997.18 1599,1983.56 1607,1969.16 1615,1955.73 1623,1944.31 1631,1934.59 1639,1925.6 1647,1916.37 1655,1906.35 1663,1895.76 1671,1885.52 1679,1876.59 1687,1869.34 1697,1862 1697,1862 1703,1872 1703,1903" stroke="#c45c62" stroke-width="5.5"/>
<circle cx="1697" cy="1862" r="5" fill="#c45c62" stroke="none"/>
<polyline points="271,2839 279,2834.89 287,2830.79 295,2826.68 303,2822.57 311,2818.47 319,2814.38 327,2810.34 335,2806.38 343,2802.54 351,2798.82 359,2795.17 367,2791.55 375,2787.95 383,2784.35 391,2780.76 399,2777.19 407,2773.7 415,2770.32 423,2767.09 431,2764 439,2760.99 447,2758.01 455,2755.03 463,2752.04 471,2749.02 479,2745.95 487,2742.84 495,2739.7 503,2736.55 511,2733.38 519,2730.19 527,2726.96 535,2723.63 543,2720.12 551,2716.27 559,2711.93 567,2707.13 575,2702.12 583,2697.28 591,2692.78 599,2688.57 607,2684.51 615,2680.5 623,2676.5 631,2672.5 639,2668.5 647,2664.5 655,2660.5 663,2656.5 671,2652.5 679,2648.5 687,2644.5 695,2640.5 703,2636.5 711,2632.48 719,2628.43 727,2624.29 735,2619.99 743,2615.53 751,2610.93 759,2606.25 767,2601.54 775,2596.82 783,2592.1 791,2587.37 799,2582.6 807,2577.76 815,2572.8 823,2567.72 831,2562.55 839,2557.34 847,2552.12 855,2546.88 863,2541.65 871,2536.38 879,2531.04 887,2525.55 895,2519.86 903,2513.97 911,2507.95 919,2501.87 927,2495.77 935,2489.67 943,2483.57 951,2477.46 959,2471.34 967,2465.1 975,2458.55 983,2451.38 991,2443.38 999,2434.69 1007,2425.74 1015,2416.91 1023,2408.28 1031,2399.72 1039,2391.03 1047,2382.07 1055,2372.99 1063,2364.26 1071,2356.19 1079,2348.54 1087,2340.66 1095,2332.16 1103,2323.33 1111,2314.66 1119,2306.26 1127,2297.88 1135,2289.31 1143,2280.59 1151,2271.88 1159,2263.36 1167,2255 1175,2246.6 1183,2237.91 1191,2228.77 1199,2219.16 1207,2209.12 1215,2198.69 1223,2187.93 1231,2176.83 1239,2165.27 1247,2153.13 1255,2140.63 1263,2128.37 1271,2117.03 1279,2106.83 1287,2097.35 1295,2087.84 1303,2077.78 1311,2067.23 1319,2056.67 1327,2046.48 1335,2036.47 1343,2026.07 1351,2014.8 1359,2002.59 1367,1989.73 1375,1976.49 1383,1963.02 1391,1949.51 1399,1936.25 1407,1923.36 1415,1910.88 1423,1898.82 1431,1887.26 1439,1875.92 1447,1864.07 1455,1851.11 1463,1837.29 1471,1823.24 1479,1809.14 1487,1794.95 1495,1780.99 1503,1767.36 1511,1753.5 1519,1738.98 1527,1724.23 1535,1709.77 1543,1695.56 1547,1688" stroke="#72a05a" stroke-width="5"/>
<circle cx="1547" cy="1688" r="5" fill="#72a05a" stroke="none"/>
<polyline points="271,2838.98 279,2833.04 287,2826.97 295,2820.79 303,2814.53 311,2808.25 319,2801.99 327,2795.82 335,2789.79 343,2783.98 351,2778.38 359,2772.91 367,2767.5 375,2762.1 383,2756.65 391,2751.09 399,2745.37 407,2739.48 415,2733.47 423,2727.4 431,2721.3 439,2715.18 447,2709.02 455,2702.79 463,2696.48 471,2690.11 479,2683.7 487,2677.27 495,2670.84 503,2664.4 511,2657.97 519,2651.54 527,2645.11 535,2638.71 543,2632.37 551,2626.14 559,2620.03 567,2613.98 575,2607.9 583,2601.71 591,2595.38 599,2588.96 607,2582.5 615,2576 623,2569.48 631,2562.89 639,2556.2 647,2549.42 655,2542.56 663,2535.66 671,2528.73 679,2521.75 687,2514.64 695,2507.31 703,2499.72 711,2491.92 719,2483.98 727,2475.99 735,2467.94 743,2459.78 751,2451.43 759,2442.82 767,2433.98 775,2424.99 783,2415.93 791,2406.85 799,2397.77 807,2388.69 815,2379.62 823,2370.54 831,2361.39 839,2352.05 847,2342.35 855,2332.22 863,2321.81 871,2311.43 879,2301.29 887,2291.42 895,2281.74 903,2272.16 911,2262.58 919,2252.77 927,2242.27 935,2230.56 943,2217.38 951,2203.25 959,2189.32 967,2176.56 975,2165.2 983,2154.76 991,2144.5 999,2133.48 1007,2121.28 1015,2108.6 1023,2096.6 1031,2085.57 1039,2074.62 1047,2062.72 1055,2049.39 1063,2034.84 1071,2019.74 1079,2004.82 1087,1990.7 1095,1977.7 1103,1965.8 1111,1954.3 1119,1941.87 1127,1927.41 1131,1920" stroke="#474787" stroke-width="5.5"/>
<circle cx="1131" cy="1920" r="5" fill="#474787" stroke="none"/>
</g>
<g fill="none" filter="url(#soft)"><path d="M266 1586H1955.5V2844.3H266ZM249 1586H266M266 2844.3V2872.3M240 2844.3H266M250 2781.93H266M240 2721.87H266M250 2661.8H266M240 2601.74H266M250 2541.68H266M240 2481.61H266M250 2421.55H266M240 2361.48H266M250 2301.41H266M240 2241.35H266M250 2181.28H266M240 2121.22H266M250 2061.15H266M240 2001.09H266M250 1941.03H266M240 1880.96H266M250 1820.89H266M240 1760.83H266M250 1700.77H266M240 1640.7H266M378.65 2844.3V2861.3M378.65 1586V1598M491.3 2844.3V2872.3M491.3 1586V1607M603.95 2844.3V2861.3M603.95 1586V1598M716.6 2844.3V2872.3M716.6 1586V1607M829.25 2844.3V2861.3M829.25 1586V1598M941.9 2844.3V2872.3M941.9 1586V1607M1054.55 2844.3V2861.3M1054.55 1586V1598M1167.2 2844.3V2872.3M1167.2 1586V1607M1279.85 2844.3V2861.3M1279.85 1586V1598M1392.5 2844.3V2872.3M1392.5 1586V1607M1505.15 2844.3V2861.3M1505.15 1586V1598M1617.8 2844.3V2872.3M1617.8 1586V1607M1730.45 2844.3V2861.3M1730.45 1586V1598M1843.1 2844.3V2872.3M1843.1 1586V1607" stroke="#a4a4a4" stroke-width="13"/><path d="M266 1586H1955.5V2844.3H266ZM249 1586H266M266 2844.3V2872.3M240 2844.3H266M250 2781.93H266M240 2721.87H266M250 2661.8H266M240 2601.74H266M250 2541.68H266M240 2481.61H266M250 2421.55H266M240 2361.48H266M250 2301.41H266M240 2241.35H266M250 2181.28H266M240 2121.22H266M250 2061.15H266M240 2001.09H266M250 1941.03H266M240 1880.96H266M250 1820.89H266M240 1760.83H266M250 1700.77H266M240 1640.7H266M378.65 2844.3V2861.3M378.65 1586V1598M491.3 2844.3V2872.3M491.3 1586V1607M603.95 2844.3V2861.3M603.95 1586V1598M716.6 2844.3V2872.3M716.6 1586V1607M829.25 2844.3V2861.3M829.25 1586V1598M941.9 2844.3V2872.3M941.9 1586V1607M1054.55 2844.3V2861.3M1054.55 1586V1598M1167.2 2844.3V2872.3M1167.2 1586V1607M1279.85 2844.3V2861.3M1279.85 1586V1598M1392.5 2844.3V2872.3M1392.5 1586V1607M1505.15 2844.3V2861.3M1505.15 1586V1598M1617.8 2844.3V2872.3M1617.8 1586V1607M1730.45 2844.3V2861.3M1730.45 1586V1598M1843.1 2844.3V2872.3M1843.1 1586V1607" stroke="#121212" stroke-width="6"/></g>
<text class="t" fill="#000" stroke="#fdfdfe" stroke-width="1.3" filter="url(#soft)"><tspan x="299.77" y="226.64" font-size="127.33" textLength="42.06" lengthAdjust="spacingAndGlyphs">(</tspan><tspan x="344.7" y="227.82" font-size="130" textLength="64.94" lengthAdjust="spacingAndGlyphs">a</tspan><tspan x="417" y="226.64" font-size="127.33" textLength="42.17" lengthAdjust="spacingAndGlyphs">)</tspan></text>
<text class="t" fill="#000" stroke="#fdfdfe" stroke-width="1.3" filter="url(#soft)"><tspan x="333.01" y="1771.22" font-size="125.74" textLength="41.77" lengthAdjust="spacingAndGlyphs">(</tspan><tspan x="376.09" y="1773.38" font-size="129.32" textLength="78.05" lengthAdjust="spacingAndGlyphs">b</tspan><tspan x="458.59" y="1771.22" font-size="125.74" textLength="41.83" lengthAdjust="spacingAndGlyphs">)</tspan></text>
<text class="t" fill="#000" stroke="#fdfdfe" stroke-width="1.3" filter="url(#soft)"><tspan x="884.61" y="1491.47" font-size="106.95" textLength="55.09" lengthAdjust="spacingAndGlyphs">S</tspan><tspan x="938.02" y="1491.41" font-size="107.68" textLength="44.35" lengthAdjust="spacingAndGlyphs">t</tspan><tspan x="977.87" y="1492.57" font-size="106.17" textLength="46.04" lengthAdjust="spacingAndGlyphs">r</tspan><tspan x="1017.09" y="1491.29" font-size="103.82" textLength="53.69" lengthAdjust="spacingAndGlyphs">a</tspan><tspan x="1069.86" y="1492.49" font-size="111.68" textLength="39.51" lengthAdjust="spacingAndGlyphs">i</tspan><tspan x="1100.51" y="1492.6" font-size="107.58" textLength="67.17" lengthAdjust="spacingAndGlyphs">n</tspan> <tspan x="1191.16" y="1489.05" font-size="107.21" textLength="32.59" lengthAdjust="spacingAndGlyphs">(</tspan><tspan x="1228.25" y="1492" font-size="108.91" textLength="84.83" lengthAdjust="spacingAndGlyphs">%</tspan><tspan x="1313.21" y="1489.05" font-size="107.21" textLength="34.81" lengthAdjust="spacingAndGlyphs">)</tspan></text>
<text class="t" fill="#000" stroke="#fdfdfe" stroke-width="1.3" filter="url(#soft)"><tspan x="926.28" y="3046.45" font-size="106.81" textLength="55.16" lengthAdjust="spacingAndGlyphs">S</tspan><tspan x="979.64" y="3046.42" font-size="109.94" textLength="42.56" lengthAdjust="spacingAndGlyphs">t</tspan><tspan x="1016.42" y="3047.54" font-size="107.23" textLength="46.73" lengthAdjust="spacingAndGlyphs">r</tspan><tspan x="1058.91" y="3046.24" font-size="106.67" textLength="53.04" lengthAdjust="spacingAndGlyphs">a</tspan><tspan x="1107.27" y="3047.47" font-size="112.6" textLength="45.45" lengthAdjust="spacingAndGlyphs">i</tspan><tspan x="1142.37" y="3047.46" font-size="108.64" textLength="67.94" lengthAdjust="spacingAndGlyphs">n</tspan> <tspan x="1233.48" y="3044.05" font-size="107.21" textLength="32.92" lengthAdjust="spacingAndGlyphs">(</tspan><tspan x="1265.72" y="3046.55" font-size="110.91" textLength="86.16" lengthAdjust="spacingAndGlyphs">%</tspan><tspan x="1354.78" y="3044.05" font-size="107.21" textLength="32.05" lengthAdjust="spacingAndGlyphs">)</tspan></text>
<text class="t" transform="rotate(-90)" fill="#000" stroke="#fdfdfe" stroke-width="1.3" filter="url(#soft)"><tspan x="-1023.52" y="113.68" font-size="107.97" textLength="57.18" lengthAdjust="spacingAndGlyphs">S</tspan><tspan x="-969.05" y="113.6" font-size="108.61" textLength="43.45" lengthAdjust="spacingAndGlyphs">t</tspan><tspan x="-933.59" y="114.63" font-size="107.6" textLength="50.87" lengthAdjust="spacingAndGlyphs">r</tspan><tspan x="-891.2" y="113.31" font-size="105.09" textLength="61.9" lengthAdjust="spacingAndGlyphs">e</tspan><tspan x="-831.67" y="113.63" font-size="104.31" textLength="48.06" lengthAdjust="spacingAndGlyphs">s</tspan><tspan x="-787.48" y="113.63" font-size="104.31" textLength="50.92" lengthAdjust="spacingAndGlyphs">s</tspan> <tspan x="-713.88" y="112.3" font-size="107" textLength="36.46" lengthAdjust="spacingAndGlyphs">(</tspan><tspan x="-679.86" y="115.09" font-size="110.74" textLength="108.72" lengthAdjust="spacingAndGlyphs">M</tspan><tspan x="-579.79" y="112.79" font-size="101.37" textLength="70.9" lengthAdjust="spacingAndGlyphs">p</tspan><tspan x="-513.59" y="113.78" font-size="105.74" textLength="50.45" lengthAdjust="spacingAndGlyphs">a</tspan><tspan x="-456.7" y="112.17" font-size="107.34" textLength="36.99" lengthAdjust="spacingAndGlyphs">)</tspan></text>
<text class="t" transform="rotate(-90)" fill="#000" stroke="#fdfdfe" stroke-width="1.3" filter="url(#soft)"><tspan x="-2498.73" y="113.68" font-size="107.97" textLength="56.04" lengthAdjust="spacingAndGlyphs">S</tspan><tspan x="-2444.33" y="113.6" font-size="108.61" textLength="42.64" lengthAdjust="spacingAndGlyphs">t</tspan><tspan x="-2409.44" y="114.63" font-size="107.6" textLength="50.5" lengthAdjust="spacingAndGlyphs">r</tspan><tspan x="-2367.39" y="113.31" font-size="105.09" textLength="62.84" lengthAdjust="spacingAndGlyphs">e</tspan><tspan x="-2306.97" y="113.63" font-size="104.31" textLength="48.12" lengthAdjust="spacingAndGlyphs">s</tspan><tspan x="-2263.7" y="113.63" font-size="104.31" textLength="52.13" lengthAdjust="spacingAndGlyphs">s</tspan> <tspan x="-2189.12" y="112.3" font-size="107" textLength="36.67" lengthAdjust="spacingAndGlyphs">(</tspan><tspan x="-2155.07" y="115.09" font-size="110.74" textLength="107.69" lengthAdjust="spacingAndGlyphs">M</tspan><tspan x="-2055.83" y="112.79" font-size="101.37" textLength="70.51" lengthAdjust="spacingAndGlyphs">p</tspan><tspan x="-1989.96" y="113.78" font-size="105.74" textLength="51.62" lengthAdjust="spacingAndGlyphs">a</tspan><tspan x="-1933" y="112.17" font-size="107.34" textLength="38.5" lengthAdjust="spacingAndGlyphs">)</tspan></text>
<text class="t" fill="#383838" filter="url(#tick)"><tspan x="230.4" y="1381.4" font-size="51.77" textLength="28.62" lengthAdjust="spacingAndGlyphs">0</tspan></text>
<text class="t" fill="#383838" filter="url(#tick)"><tspan x="432.97" y="1381.4" font-size="51.77" textLength="84.59" lengthAdjust="spacingAndGlyphs">200</tspan></text>
<text class="t" fill="#383838" filter="url(#tick)"><tspan x="666" y="1381.4" font-size="51.77" textLength="77.01" lengthAdjust="spacingAndGlyphs">400</tspan></text>
<text class="t" fill="#383838" filter="url(#tick)"><tspan x="887.37" y="1381.4" font-size="51.77" textLength="83.66" lengthAdjust="spacingAndGlyphs">600</tspan></text>
<text class="t" fill="#383838" filter="url(#tick)"><tspan x="1117.97" y="1380.51" font-size="50.55" textLength="79.04" lengthAdjust="spacingAndGlyphs">800</tspan></text>
<text class="t" fill="#383838" filter="url(#tick)"><tspan x="1333.85" y="1381.4" font-size="51.77" textLength="99.68" lengthAdjust="spacingAndGlyphs">1000</tspan></text>
<text class="t" fill="#383838" filter="url(#tick)"><tspan x="1565.94" y="1381.4" font-size="51.77" textLength="103.09" lengthAdjust="spacingAndGlyphs">1200</tspan></text>
<text class="t" fill="#383838" filter="url(#tick)"><tspan x="1794.94" y="1381.4" font-size="51.77" textLength="100.1" lengthAdjust="spacingAndGlyphs">1400</tspan></text>
<text class="t" fill="#383838" filter="url(#tick)"><tspan x="248.34" y="2920.37" font-size="52.21" textLength="31.66" lengthAdjust="spacingAndGlyphs">0</tspan></text>
<text class="t" fill="#383838" filter="url(#tick)"><tspan x="442.07" y="2920.37" font-size="52.21" textLength="84.94" lengthAdjust="spacingAndGlyphs">200</tspan></text>
<text class="t" fill="#383838" filter="url(#tick)"><tspan x="676" y="2920.37" font-size="52.21" textLength="79.01" lengthAdjust="spacingAndGlyphs">400</tspan></text>
<text class="t" fill="#383838" filter="url(#tick)"><tspan x="892.07" y="2920.37" font-size="52.21" textLength="84.94" lengthAdjust="spacingAndGlyphs">600</tspan></text>
<text class="t" fill="#383838" filter="url(#tick)"><tspan x="1118.97" y="2920.37" font-size="52.21" textLength="84.05" lengthAdjust="spacingAndGlyphs">800</tspan></text>
<text class="t" fill="#383838" filter="url(#tick)"><tspan x="1335.94" y="2920.37" font-size="52.21" textLength="104.09" lengthAdjust="spacingAndGlyphs">1000</tspan></text>
<text class="t" fill="#383838" filter="url(#tick)"><tspan x="1568.93" y="2920.37" font-size="52.21" textLength="97.1" lengthAdjust="spacingAndGlyphs">1200</tspan></text>
<text class="t" fill="#383838" filter="url(#tick)"><tspan x="1788.94" y="2920.37" font-size="52.21" textLength="106.09" lengthAdjust="spacingAndGlyphs">1400</tspan></text>
<text class="t" fill="#383838" filter="url(#tick)"><tspan x="150.35" y="68.18" font-size="50.22" textLength="53.69" lengthAdjust="spacingAndGlyphs">22</tspan></text>
<text class="t" fill="#383838" filter="url(#tick)"><tspan x="149.96" y="185.06" font-size="49.1" textLength="54.08" lengthAdjust="spacingAndGlyphs">20</tspan></text>
<text class="t" fill="#383838" filter="url(#tick)"><tspan x="158.93" y="297.67" font-size="50.25" textLength="44.07" lengthAdjust="spacingAndGlyphs">18</tspan></text>
<text class="t" fill="#383838" filter="url(#tick)"><tspan x="158.93" y="412" font-size="50.22" textLength="44.07" lengthAdjust="spacingAndGlyphs">16</tspan></text>
<text class="t" fill="#383838" filter="url(#tick)"><tspan x="160" y="523.05" font-size="51.54" textLength="42" lengthAdjust="spacingAndGlyphs">14</tspan></text>
<text class="t" fill="#383838" filter="url(#tick)"><tspan x="158.9" y="634.95" font-size="51.54" textLength="45.18" lengthAdjust="spacingAndGlyphs">12</tspan></text>
<text class="t" fill="#383838" filter="url(#tick)"><tspan x="158.8" y="753.2" font-size="49.1" textLength="45.08" lengthAdjust="spacingAndGlyphs">10</tspan></text>
<text class="t" fill="#383838" filter="url(#tick)"><tspan x="178.08" y="865.24" font-size="49.13" textLength="25.84" lengthAdjust="spacingAndGlyphs">8</tspan></text>
<text class="t" fill="#383838" filter="url(#tick)"><tspan x="178.08" y="978.37" font-size="49.1" textLength="25.84" lengthAdjust="spacingAndGlyphs">6</tspan></text>
<text class="t" fill="#383838" filter="url(#tick)"><tspan x="181.95" y="1085.26" font-size="51.54" textLength="19.13" lengthAdjust="spacingAndGlyphs">4</tspan></text>
<text class="t" fill="#383838" filter="url(#tick)"><tspan x="174.93" y="1203.07" font-size="50.22" textLength="31.15" lengthAdjust="spacingAndGlyphs">2</tspan></text>
<text class="t" fill="#383838" filter="url(#tick)"><tspan x="174.94" y="1317.2" font-size="49.1" textLength="29.03" lengthAdjust="spacingAndGlyphs">0</tspan></text>
<text class="t" fill="#383838" filter="url(#tick)"><tspan x="166.96" y="1656.2" font-size="49.1" textLength="55.22" lengthAdjust="spacingAndGlyphs">20</tspan></text>
<text class="t" fill="#383838" filter="url(#tick)"><tspan x="174.72" y="1777.11" font-size="50.39" textLength="46.42" lengthAdjust="spacingAndGlyphs">18</tspan></text>
<text class="t" fill="#383838" filter="url(#tick)"><tspan x="174.66" y="1896.68" font-size="49.1" textLength="47.5" lengthAdjust="spacingAndGlyphs">16</tspan></text>
<text class="t" fill="#383838" filter="url(#tick)"><tspan x="174.72" y="2014.15" font-size="51.54" textLength="46.37" lengthAdjust="spacingAndGlyphs">14</tspan></text>
<text class="t" fill="#383838" filter="url(#tick)"><tspan x="174.68" y="2132.86" font-size="51.64" textLength="47.45" lengthAdjust="spacingAndGlyphs">12</tspan></text>
<text class="t" fill="#383838" filter="url(#tick)"><tspan x="175.1" y="2259.33" font-size="49.1" textLength="46.77" lengthAdjust="spacingAndGlyphs">10</tspan></text>
<text class="t" fill="#383838" filter="url(#tick)"><tspan x="194.56" y="2375.24" font-size="49.13" textLength="27.32" lengthAdjust="spacingAndGlyphs">8</tspan></text>
<text class="t" fill="#383838" filter="url(#tick)"><tspan x="194.53" y="2498.2" font-size="49.03" textLength="27.36" lengthAdjust="spacingAndGlyphs">6</tspan></text>
<text class="t" fill="#383838" filter="url(#tick)"><tspan x="199.95" y="2617.05" font-size="51.54" textLength="20.98" lengthAdjust="spacingAndGlyphs">4</tspan></text>
<text class="t" fill="#383838" filter="url(#tick)"><tspan x="193.46" y="2737.07" font-size="50.22" textLength="31.62" lengthAdjust="spacingAndGlyphs">2</tspan></text>
<text class="t" fill="#383838" filter="url(#tick)"><tspan x="194.46" y="2855.06" font-size="49.1" textLength="26.6" lengthAdjust="spacingAndGlyphs">0</tspan></text>
<text class="t" fill="#1c1c1c" filter="url(#tick)"><tspan x="972.27" y="473.99" font-size="58.22" textLength="14.52" lengthAdjust="spacingAndGlyphs">1</tspan><tspan x="1000.53" y="473.15" font-size="52.8" textLength="28.79" lengthAdjust="spacingAndGlyphs">0</tspan> <tspan x="1047.78" y="473.76" font-size="58.87" textLength="28.02" lengthAdjust="spacingAndGlyphs">p</tspan><tspan x="1078.95" y="474.08" font-size="52.76" textLength="31.05" lengthAdjust="spacingAndGlyphs">h</tspan><tspan x="1111.14" y="473.74" font-size="59.42" textLength="25.73" lengthAdjust="spacingAndGlyphs">r</tspan></text>
<text class="t" fill="#1c1c1c" filter="url(#tick)"><tspan x="1316.96" y="258.62" font-size="55.11" textLength="26.64" lengthAdjust="spacingAndGlyphs">5</tspan></text>
<text class="t" fill="#1c1c1c" filter="url(#tick)"><tspan x="1712.03" y="191.14" font-size="55.14" textLength="17.44" lengthAdjust="spacingAndGlyphs">1</tspan></text>
<text class="t" fill="#1c1c1c" filter="url(#tick)"><tspan x="1730.31" y="430.1" font-size="57.55" textLength="27.4" lengthAdjust="spacingAndGlyphs">0</tspan></text>
<text class="t" fill="#1c1c1c" filter="url(#tick)"><tspan x="1019.43" y="1862.05" font-size="56.23" textLength="16.03" lengthAdjust="spacingAndGlyphs">1</tspan><tspan x="1046.92" y="1861.24" font-size="54.09" textLength="26.57" lengthAdjust="spacingAndGlyphs">0</tspan> <tspan x="1088.54" y="1861.3" font-size="56.54" textLength="29.57" lengthAdjust="spacingAndGlyphs">p</tspan><tspan x="1121.38" y="1862.07" font-size="54.98" textLength="31.05" lengthAdjust="spacingAndGlyphs">h</tspan><tspan x="1154.09" y="1861.74" font-size="57.79" textLength="29.14" lengthAdjust="spacingAndGlyphs">r</tspan></text>
<text class="t" fill="#1c1c1c" filter="url(#tick)"><tspan x="1553.77" y="1672.07" font-size="60.09" textLength="33.87" lengthAdjust="spacingAndGlyphs">5</tspan></text>
<text class="t" fill="#1c1c1c" filter="url(#tick)"><tspan x="1644.91" y="1829.64" font-size="58.13" textLength="17.08" lengthAdjust="spacingAndGlyphs">1</tspan></text>
<text class="t" fill="#1c1c1c" filter="url(#tick)"><tspan x="1763.92" y="1966.2" font-size="51.77" textLength="29.16" lengthAdjust="spacingAndGlyphs">0</tspan></text>
</svg></body></html>
